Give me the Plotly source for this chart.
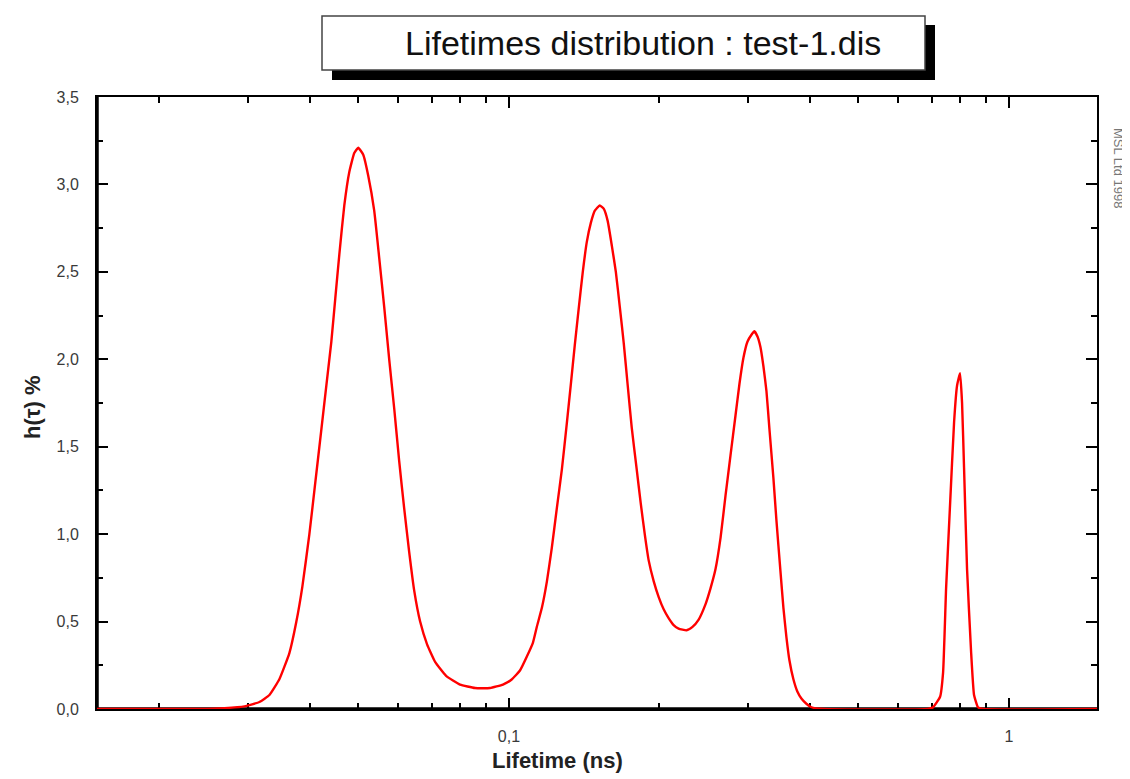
import plotly.graph_objects as go

# ---- data (lifetime in ns, h(tau) in %) ----
lifetime_ns = [
    0.015, 0.02405, 0.02699, 0.02959, 0.03170, 0.03319, 0.03474, 0.03638, 0.03757, 0.03862,
    0.03989, 0.04101, 0.04216, 0.04313, 0.04413, 0.04495, 0.04579, 0.04685, 0.04793, 0.04905,
    0.04996, 0.05112, 0.05231, 0.05377, 0.05502, 0.05630, 0.05761, 0.05895, 0.06031, 0.06171,
    0.06315, 0.06462, 0.06643, 0.06859, 0.07117, 0.07487, 0.07984, 0.08554, 0.09165, 0.09727,
    0.1014, 0.1052, 0.1086, 0.1117, 0.1137, 0.1164, 0.1191, 0.1218, 0.1247, 0.1276,
    0.1305, 0.1330, 0.1354, 0.1380, 0.1405, 0.1431, 0.1458, 0.1485, 0.1519, 0.1548,
    0.1576, 0.1606, 0.1636, 0.1666, 0.1697, 0.1728, 0.1760, 0.1801, 0.1834, 0.1869,
    0.1903, 0.1948, 0.1993, 0.2039, 0.2086, 0.2135, 0.2184, 0.2266, 0.2329, 0.2394,
    0.2473, 0.2530, 0.2589, 0.2650, 0.2711, 0.2774, 0.2839, 0.2891, 0.2945, 0.2999,
    0.3055, 0.3097, 0.3141, 0.3184, 0.3228, 0.3273, 0.3319, 0.3380, 0.3427, 0.3491,
    0.3539, 0.3589, 0.3638, 0.3706, 0.3774, 0.3845, 0.3934, 0.4026, 0.4254,
    0.6890, 0.7051, 0.7282, 0.7384, 0.7487, 0.7625, 0.7767, 0.7875, 0.7984, 0.8058,
    0.8132, 0.8245, 0.8399, 0.8515, 0.8672, 0.8873, 1.5,
]
h_percent = [
    0.0, 0.0, 0.005, 0.015, 0.04, 0.08, 0.17, 0.32, 0.5, 0.7,
    1.0, 1.3, 1.6, 1.85, 2.1, 2.35, 2.6, 2.88, 3.07, 3.18,
    3.21, 3.17, 3.05, 2.85, 2.58, 2.3, 2.0, 1.72, 1.42, 1.15,
    0.9, 0.68, 0.5, 0.37, 0.27, 0.19, 0.14, 0.12, 0.12, 0.14,
    0.17, 0.22, 0.3, 0.38, 0.47, 0.58, 0.73, 0.92, 1.15, 1.37,
    1.63, 1.86, 2.08, 2.3, 2.5, 2.67, 2.78, 2.85, 2.88, 2.86,
    2.79, 2.65, 2.5, 2.3, 2.09, 1.85, 1.61, 1.37, 1.18, 1.0,
    0.85, 0.73, 0.64, 0.57, 0.52, 0.48, 0.46, 0.45, 0.47, 0.51,
    0.6, 0.69, 0.8, 0.98, 1.22, 1.45, 1.68, 1.86, 2.01, 2.1,
    2.14, 2.16, 2.13, 2.07, 1.96, 1.82, 1.6, 1.32, 1.08, 0.79,
    0.58, 0.41, 0.28, 0.17, 0.1, 0.06, 0.03, 0.01, 0.0,
    0.0, 0.01, 0.07, 0.21, 0.69, 1.17, 1.64, 1.85, 1.92, 1.75,
    1.38, 0.80, 0.33, 0.08, 0.01, 0.0, 0.0,
]

x_major_vals = [0.1, 1]
x_major_text = ["0,1", "1"]
x_minor_vals = [0.02, 0.03, 0.04, 0.05, 0.06, 0.07, 0.08, 0.09,
                0.2, 0.3, 0.4, 0.5, 0.6, 0.7, 0.8, 0.9]

title_text = "Lifetimes distribution : test-1.dis"
x_title = "Lifetime (ns)"
y_title = "h(τ) %"
credit = "MSL Ltd 1998"

# ---- layout helpers ----
# the page body has an 8px default margin, so the figure is drawn 8px smaller
# and everything is positioned in page pixels minus that offset
OFF = 8
W, H = 1130 - OFF, 779 - OFF
L, R, T, B = 97 - OFF, 1097 - OFF, 97 - OFF, 709 - OFF


def pxx(p):
    return (p - OFF - L) / (R - L)


def pxy(p):
    return (B - (p - OFF)) / (B - T)


FONT = "Liberation Sans, Arial, sans-serif"
TICK_COLOR = "#3a3a3a"

fig = go.Figure()
fig.add_trace(go.Scatter(
    x=lifetime_ns, y=h_percent, mode="lines",
    line=dict(color="#ff0000", width=2.4, shape="spline", smoothing=0.4),
    hoverinfo="x+y", showlegend=False,
))

fig.update_layout(
    width=W, height=H, autosize=False,
    margin=dict(l=L, r=W - R, t=T, b=H - B, pad=0),
    paper_bgcolor="white", plot_bgcolor="white",
    separators=",.",
    font=dict(family=FONT, color=TICK_COLOR, size=16),
    showlegend=False,
)

fig.update_xaxes(
    type="log", range=[-1.8239, 0.1761],
    showgrid=False, zeroline=False,
    showline=True, linecolor="black", linewidth=2, mirror="ticks",
    ticks="inside", ticklen=11, tickwidth=2, tickcolor="black",
    tickvals=x_major_vals, ticktext=x_major_text,
    ticklabelstandoff=12,
    tickfont=dict(family=FONT, size=16, color=TICK_COLOR),
    minor=dict(tickvals=x_minor_vals, ticks="inside", ticklen=6,
               tickwidth=2, tickcolor="black", showgrid=False),
    layer="below traces",
)
fig.update_yaxes(
    range=[0, 3.5],
    showgrid=False, zeroline=False,
    showline=True, linecolor="black", linewidth=2, mirror="ticks",
    ticks="inside", ticklen=11, tickwidth=2, tickcolor="black",
    tick0=0, dtick=0.5, tickformat=".1f",
    ticklabelstandoff=13,
    tickfont=dict(family=FONT, size=16, color=TICK_COLOR),
    minor=dict(dtick=0.25, ticks="inside", ticklen=6,
               tickwidth=2, tickcolor="black", showgrid=False),
    layer="below traces",
)

shapes = [
    # heavier left and bottom frame lines
    dict(type="line", xref="paper", yref="paper", x0=0, x1=0, y0=0, y1=1,
         line=dict(color="black", width=3.5), layer="below"),
    dict(type="line", xref="paper", yref="paper", x0=0, x1=1, y0=0, y1=0,
         line=dict(color="black", width=3.5), layer="below"),
    # title box shadow
    dict(type="rect", xref="paper", yref="paper",
         x0=pxx(332), x1=pxx(935), y0=pxy(80), y1=pxy(25),
         fillcolor="black", line=dict(width=0), layer="above"),
    # title box
    dict(type="rect", xref="paper", yref="paper",
         x0=pxx(322), x1=pxx(925), y0=pxy(70), y1=pxy(16),
         fillcolor="white", line=dict(color="#444444", width=1.5), layer="above"),
]
fig.update_layout(shapes=shapes)

annotations = [
    dict(text=title_text, xref="paper", yref="paper", x=pxx(643), y=pxy(43),
         xanchor="center", yanchor="middle", showarrow=False,
         font=dict(family=FONT, size=34, color="#111111")),
    dict(text="<b>" + x_title + "</b>", xref="paper", yref="paper",
         x=pxx(557), y=pxy(760), xanchor="center", yanchor="middle", showarrow=False,
         font=dict(family=FONT, size=22, color="#222222")),
    dict(text="<b>" + y_title + "</b>", xref="paper", yref="paper",
         x=pxx(32), y=pxy(407), xanchor="center", yanchor="middle", showarrow=False,
         textangle=-90, font=dict(family=FONT, size=22, color="#222222")),
    dict(text=credit, xref="paper", yref="paper",
         x=pxx(1119), y=pxy(168), xanchor="center", yanchor="middle", showarrow=False,
         textangle=90, font=dict(family=FONT, size=13, color="#777777")),
]
fig.update_layout(annotations=annotations)

fig.write_html("out.html")
